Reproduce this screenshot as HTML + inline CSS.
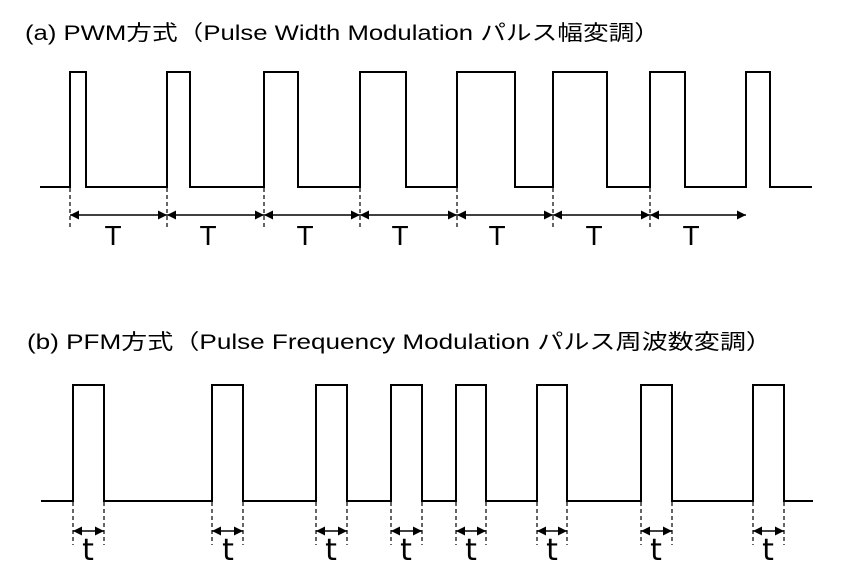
<!DOCTYPE html>
<html><head><meta charset="utf-8"><style>html,body{margin:0;padding:0;background:#fff}svg{display:block}</style></head>
<body>
<svg width="845" height="568" viewBox="0 0 845 568" xmlns="http://www.w3.org/2000/svg">
<defs>
<marker id="ah" viewBox="0 0 10 10" refX="10" refY="5" markerWidth="9" markerHeight="9" markerUnits="userSpaceOnUse" orient="auto-start-reverse"><path d="M0,0 L10,5 L0,10 z" fill="#000"/></marker>
</defs>
<g font-family="'Liberation Sans','Noto Sans CJK JP',sans-serif" fill="#000" style="white-space:pre">
<text x="25" y="40" font-size="21" textLength="635" lengthAdjust="spacingAndGlyphs">(a)  PWM方式（Pulse Width Modulation  パルス幅変調）</text>
<text x="27" y="349" font-size="21" textLength="745" lengthAdjust="spacingAndGlyphs">(b)  PFM方式（Pulse Frequency Modulation  パルス周波数変調）</text>
</g>
<g fill="none" stroke="#000" stroke-width="2">
<path d="M40,187 H70 V72 H86 V187 H167 V72 H190 V187 H264 V72 H298 V187 H360 V72 H406 V187 H457 V72 H515 V187 H553 V72 H607 V187 H650 V72 H685 V187 H746 V72 H770 V187 H812"/>
<path d="M41,501 H73 V385 H104 V501 H212 V385 H243 V501 H316 V385 H347 V501 H391 V385 H422 V501 H456 V385 H486 V501 H537 V385 H567 V501 H641 V385 H672 V501 H753 V385 H784 V501 H813"/>
</g>
<g stroke="#000" stroke-width="1.2" stroke-dasharray="4,3">
<path d="M70,188 V228 M167,188 V228 M264,188 V228 M360,188 V228 M457,188 V228 M553,188 V228 M650,188 V228"/>
<path d="M73,502 V545 M104,502 V545 M212,502 V545 M243,502 V545 M316,502 V545 M347,502 V545 M391,502 V545 M422,502 V545 M456,502 V545 M486,502 V545 M537,502 V545 M567,502 V545 M641,502 V545 M672,502 V545 M753,502 V545 M784,502 V545"/>
</g>
<g stroke="#000" stroke-width="1.5" marker-start="url(#ah)" marker-end="url(#ah)">
<line x1="70" y1="215" x2="167" y2="215"/><line x1="167" y1="215" x2="264" y2="215"/><line x1="264" y1="215" x2="360" y2="215"/><line x1="360" y1="215" x2="457" y2="215"/><line x1="457" y1="215" x2="553" y2="215"/><line x1="553" y1="215" x2="650" y2="215"/><line x1="650" y1="215" x2="746" y2="215"/>
<line x1="73" y1="531" x2="104" y2="531"/><line x1="212" y1="531" x2="243" y2="531"/><line x1="316" y1="531" x2="347" y2="531"/><line x1="391" y1="531" x2="422" y2="531"/><line x1="456" y1="531" x2="486" y2="531"/><line x1="537" y1="531" x2="567" y2="531"/><line x1="641" y1="531" x2="672" y2="531"/><line x1="753" y1="531" x2="784" y2="531"/>
</g>
<g font-family="'Liberation Sans',sans-serif" font-size="28" text-anchor="middle" fill="#000">
<text x="113" y="245">T</text><text x="208" y="245">T</text><text x="305" y="245">T</text><text x="400" y="245">T</text><text x="497" y="245">T</text><text x="594" y="245">T</text><text x="691" y="245">T</text>
</g>
<g font-family="'DejaVu Sans',sans-serif" font-size="30" text-anchor="middle" fill="#000">
<text x="88" y="560">t</text><text x="228" y="560">t</text><text x="331" y="560">t</text><text x="406" y="560">t</text><text x="471" y="560">t</text><text x="552" y="560">t</text><text x="656" y="560">t</text><text x="768" y="560">t</text>
</g>
</svg>
</body></html>
